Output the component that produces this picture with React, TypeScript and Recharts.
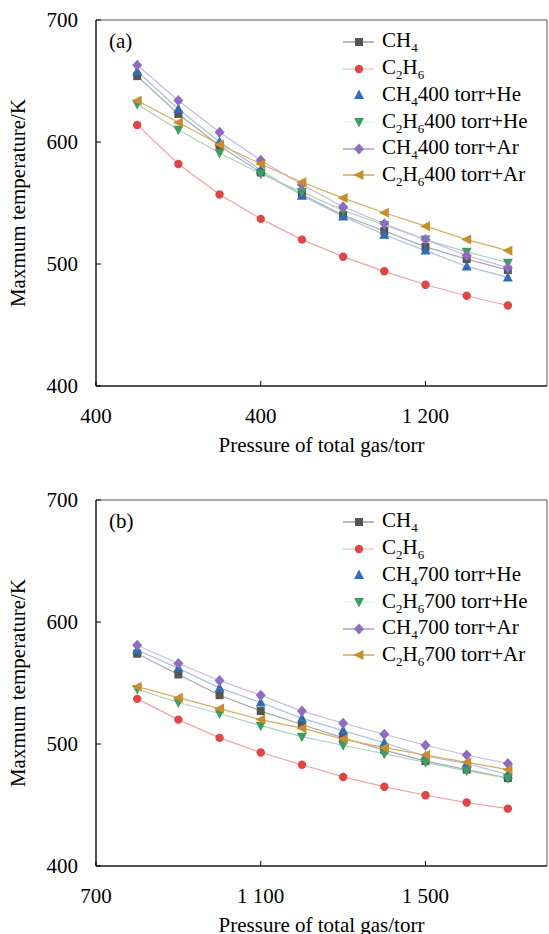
import React from "react";
import { LineChart, Line, XAxis, YAxis, Legend, ReferenceArea } from "recharts";

const FONT = '"Liberation Serif", "Times New Roman", serif';

// pressure of total gas (torr)
const pressureA = [500, 600, 700, 800, 900, 1000, 1100, 1200, 1300, 1400];
const pressureB = [800, 900, 1000, 1100, 1200, 1300, 1400, 1500, 1600, 1700];

// (a) maximum temperature, K
const ch4A = [654, 623, 597, 575, 557, 540, 527, 514, 504, 495];
const c2h6A = [614, 582, 557, 537, 520, 506, 494, 483, 474, 466];
const ch4HeA = [658, 627, 600, 577, 556, 539, 524, 511, 498, 489];
const c2h6HeA = [631, 610, 591, 574, 559, 544, 532, 520, 510, 501];
const ch4ArA = [663, 634, 608, 585, 565, 547, 533, 520, 507, 497];
const c2h6ArA = [634, 616, 598, 582, 567, 554, 542, 531, 520, 511];

// (b) maximum temperature, K
const ch4B = [574, 557, 540, 527, 516, 505, 495, 486, 479, 472];
const c2h6B = [537, 520, 505, 493, 483, 473, 465, 458, 452, 447];
const ch4HeB = [577, 562, 546, 534, 521, 511, 501, 490, 484, 475];
const c2h6HeB = [545, 534, 525, 515, 506, 499, 492, 485, 478, 472];
const ch4ArB = [581, 566, 552, 540, 527, 517, 508, 499, 491, 484];
const c2h6ArB = [547, 538, 529, 520, 513, 504, 497, 491, 485, 479];

const namesA = ["CH_4", "C_2H_6", "CH_4400 torr+He", "C_2H_6400 torr+He", "CH_4400 torr+Ar", "C_2H_6400 torr+Ar"];
const namesB = ["CH_4", "C_2H_6", "CH_4700 torr+He", "C_2H_6700 torr+He", "CH_4700 torr+Ar", "C_2H_6700 torr+Ar"];

const ticksA = [400, 800, 1200];
const tickLabelsA: Record<number, string> = { 400: "400", 800: "400", 1200: "1 200" };
const ticksB = [700, 1100, 1500];
const tickLabelsB: Record<number, string> = { 700: "700", 1100: "1 100", 1500: "1 500" };
const tempTicks = [400, 500, 600, 700];

const series = [
  { key: "ch4", marker: "square", color: "#555555", line: "#a8a8a8", legendLine: "#8a8a8a" },
  { key: "c2h6", marker: "circle", color: "#e04545", line: "#f4a3a3", legendLine: "#f6b8b8" },
  { key: "ch4He", marker: "up", color: "#2f6db5", line: "#a9c0e6", legendLine: "none" },
  { key: "c2h6He", marker: "down", color: "#3f9c62", line: "#a9d6b7", legendLine: "#e2f1e6" },
  { key: "ch4Ar", marker: "diamond", color: "#8e6cc0", line: "#c9b8e3", legendLine: "#9d80c8" },
  { key: "c2h6Ar", marker: "left", color: "#c58f2d", line: "#d7ae5e", legendLine: "#c58f2d" },
];

const rowsA = pressureA.map((p, i) => ({
  p, ch4: ch4A[i], c2h6: c2h6A[i], ch4He: ch4HeA[i], c2h6He: c2h6HeA[i], ch4Ar: ch4ArA[i], c2h6Ar: c2h6ArA[i],
}));
const rowsB = pressureB.map((p, i) => ({
  p, ch4: ch4B[i], c2h6: c2h6B[i], ch4He: ch4HeB[i], c2h6He: c2h6HeB[i], ch4Ar: ch4ArB[i], c2h6Ar: c2h6ArB[i],
}));

const Marker = ({ shape, x, y, color }: { shape: string; x: number; y: number; color: string }) => {
  if (shape === "square") return <rect x={x - 4} y={y - 4} width={8} height={8} fill={color} />;
  if (shape === "circle") return <circle cx={x} cy={y} r={4.2} fill={color} />;
  let pts = "";
  if (shape === "up") pts = `${x},${y - 5.5} ${x - 5},${y + 4} ${x + 5},${y + 4}`;
  if (shape === "down") pts = `${x},${y + 5.5} ${x - 5},${y - 4} ${x + 5},${y - 4}`;
  if (shape === "diamond") pts = `${x},${y - 5.5} ${x + 5},${y} ${x},${y + 5.5} ${x - 5},${y}`;
  if (shape === "left") pts = `${x - 5.5},${y} ${x + 4.5},${y - 5} ${x + 4.5},${y + 5}`;
  return <polygon points={pts} fill={color} />;
};

const makeDot = (shape: string, color: string) => (props: any) => {
  const { cx, cy, index } = props;
  if (cx == null || cy == null) return <g key={`${shape}-${index}`} />;
  return (
    <g key={`${shape}-${index}`}>
      <Marker shape={shape} x={cx} y={cy} color={color} />
    </g>
  );
};

// "C_2H_6" -> C₂H₆ with real subscripts
const Formula = ({ text }: { text: string }) => {
  const parts = text.split(/_(\d)/);
  return (
    <>
      {parts.map((t, i) =>
        i % 2 === 1 ? (
          <span key={i} style={{ fontSize: 13, position: "relative", top: 5 }}>{t}</span>
        ) : (
          <span key={i}>{t}</span>
        )
      )}
    </>
  );
};

const makeLegend = (names: string[]) => () => (
  <div style={{ fontFamily: FONT, fontSize: 21, color: "#000" }}>
    {series.map((s, i) => (
      <div key={s.key} style={{ display: "flex", alignItems: "center", height: 26.7 }}>
        <svg width={31} height={14} style={{ marginRight: 8, flex: "none" }}>
          {s.legendLine !== "none" && (
            <line x1={0} x2={31} y1={7} y2={7} stroke={s.legendLine} strokeWidth={1.2} />
          )}
          <Marker shape={s.marker} x={16} y={7} color={s.color} />
        </svg>
        <span style={{ lineHeight: "21px", whiteSpace: "nowrap" }}>
          <Formula text={names[i]} />
        </span>
      </div>
    ))}
  </div>
);

type PanelProps = {
  title: string;
  rows: any[];
  xMin: number;
  xMax: number;
  xTicks: number[];
  xLabels: Record<number, string>;
  names: string[];
};

const Panel = ({ title, rows, xMin, xMax, xTicks, xLabels, names }: PanelProps) => (
  <LineChart width={549} height={480} data={rows} margin={{ top: 20, right: 2, bottom: 0, left: 0 }}>
    <ReferenceArea
      x1={xMin}
      x2={xMax}
      y1={400}
      y2={700}
      fill="none"
      stroke="#555"
      strokeWidth={1}
      label={{ value: title, position: "insideTopLeft", offset: 13, fontSize: 21, fill: "#000", fontFamily: FONT }}
    />
    <XAxis
      dataKey="p"
      type="number"
      domain={[xMin, xMax]}
      ticks={xTicks}
      allowDataOverflow
      height={94}
      stroke="#000"
      tickSize={-5}
      tickMargin={27}
      tickFormatter={(v: number) => xLabels[v] ?? String(v)}
      tick={{ fill: "#000", fontSize: 21, fontFamily: FONT }}
      label={{
        content: (props: any) => {
          const vb = props.viewBox;
          return (
            <text x={vb.x + vb.width / 2} y={vb.y + 66} textAnchor="middle" fontSize={21} fontFamily={FONT} fill="#000">
              Pressure of total gas/torr
            </text>
          );
        },
      }}
    />
    <YAxis
      type="number"
      domain={[400, 700]}
      ticks={tempTicks}
      width={96}
      stroke="#000"
      tickSize={-5}
      tickMargin={23}
      tick={{ fill: "#000", fontSize: 21, fontFamily: FONT }}
      label={{
        content: (props: any) => {
          const vb = props.viewBox;
          const cy = vb.y + vb.height / 2;
          return (
            <text x={25} y={cy} transform={`rotate(-90 25 ${cy})`} textAnchor="middle" fontSize={21} fontFamily={FONT} fill="#000">
              Maxmum temperature/K
            </text>
          );
        },
      }}
    />
    <Legend
      layout="vertical"
      align="center"
      verticalAlign="middle"
      content={makeLegend(names)}
      wrapperStyle={{ left: 343, top: 28.6, width: 206 }}
    />
    {series.map((s, i) => (
      <Line
        key={s.key}
        type="linear"
        dataKey={s.key}
        name={names[i]}
        stroke={s.line}
        strokeWidth={1.2}
        dot={makeDot(s.marker, s.color)}
        activeDot={false}
        isAnimationActive={false}
      />
    ))}
  </LineChart>
);

export default function App() {
  return (
    <div style={{ position: "absolute", left: 0, top: 0, width: 549, height: 934, background: "#fff", fontFamily: FONT }}>
      <div style={{ position: "absolute", left: 0, top: 0 }}>
        <Panel title="(a)" rows={rowsA} xMin={400} xMax={1495} xTicks={ticksA} xLabels={tickLabelsA} names={namesA} />
      </div>
      <div style={{ position: "absolute", left: 0, top: 480 }}>
        <Panel title="(b)" rows={rowsB} xMin={700} xMax={1795} xTicks={ticksB} xLabels={tickLabelsB} names={namesB} />
      </div>
    </div>
  );
}
